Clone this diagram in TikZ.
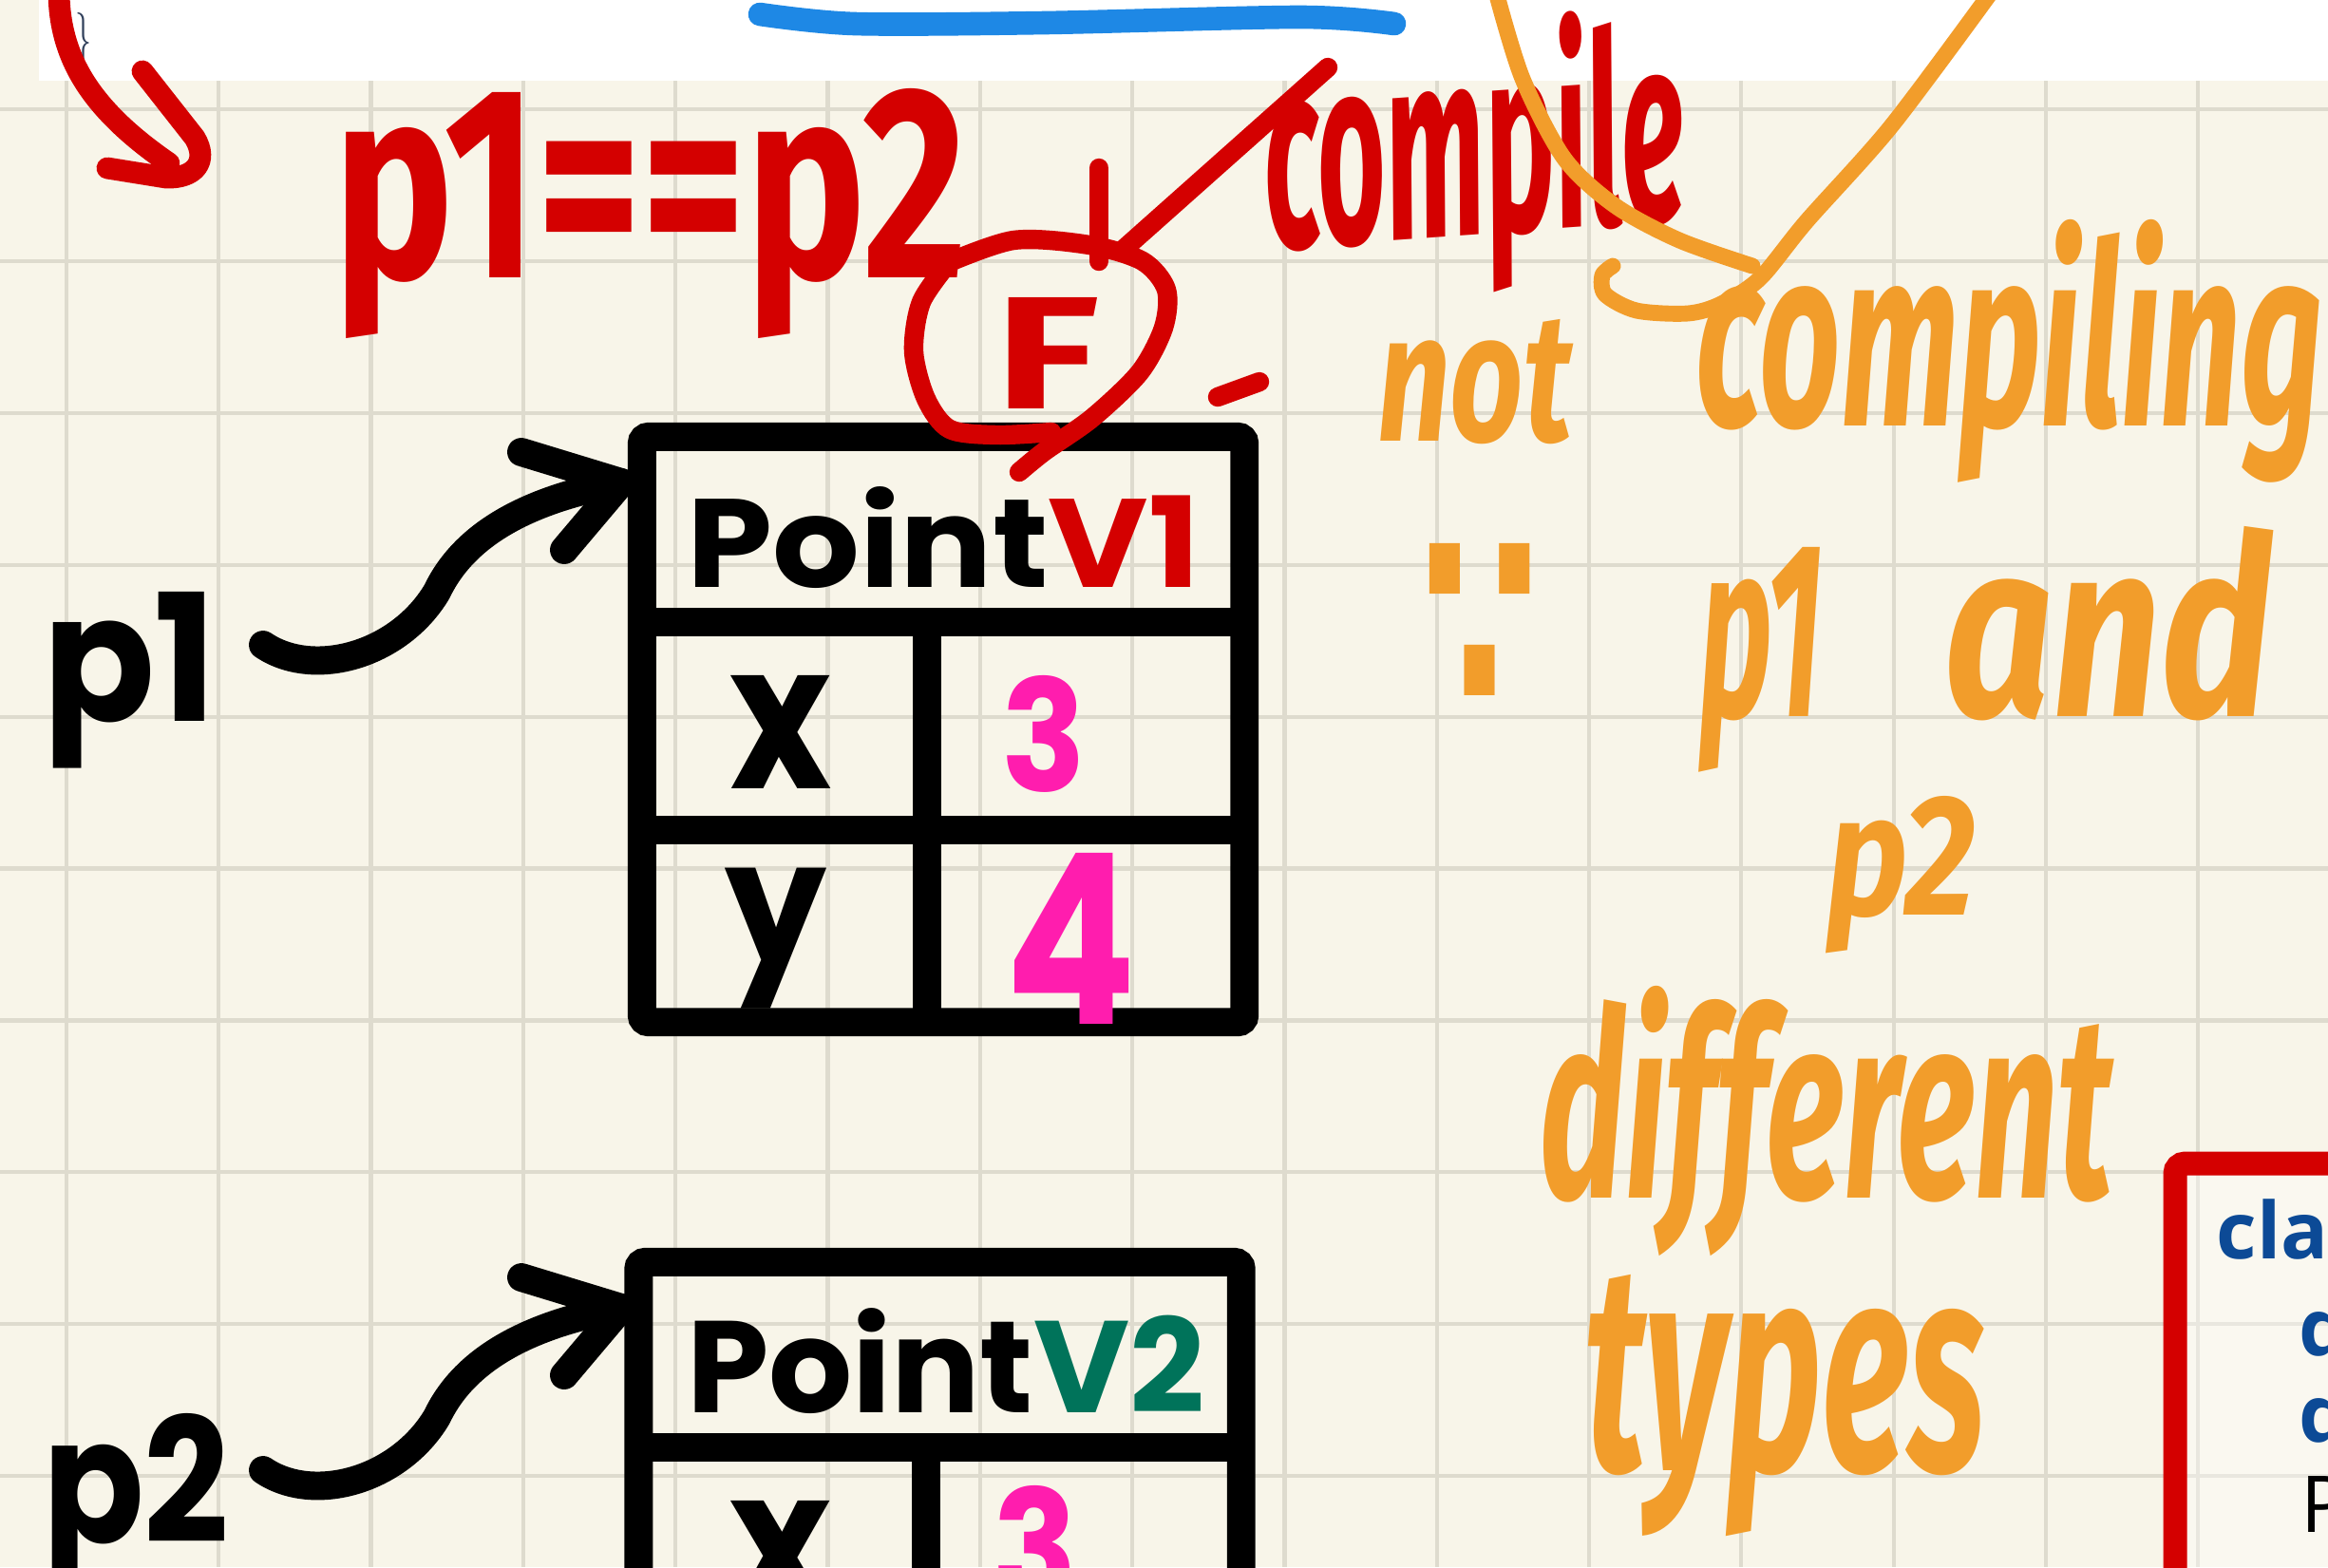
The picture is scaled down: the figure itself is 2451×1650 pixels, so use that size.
\documentclass[tikz,border=0pt]{standalone}
\usepackage{fontspec}
\usepackage{graphicx}
\usetikzlibrary{calc}
\newfontfamily\handf{Fira Sans}
\newfontfamily\boxf{Poppins}
\newfontfamily\codef{Open Sans}
\newfontfamily\symf{DejaVu Sans}
\definecolor{paper}{RGB}{248,245,233}
\definecolor{gridc}{RGB}{222,219,206}
\definecolor{inkred}{RGB}{212,0,0}
\definecolor{inkorange}{RGB}{242,157,43}
\definecolor{inkpink}{RGB}{255,29,174}
\definecolor{inkgreen}{RGB}{0,115,90}
\definecolor{inkblue}{RGB}{30,136,229}
\definecolor{codeblue}{RGB}{12,74,150}
\definecolor{slate}{RGB}{50,65,92}
\newcommand\fitbox[3]{\resizebox*{#1cm}{#2cm}{#3}}
\newcommand\fitbase[3]{\resizebox{#1cm}{#2cm}{#3}}
\begin{document}
\begin{tikzpicture}[x=0.01cm,y=-0.01cm,
  txt/.style={inner sep=0pt, outer sep=0pt, anchor=north west},
  btxt/.style={inner sep=0pt, outer sep=0pt, anchor=base west},
  gridline/.style={draw=gridc, line width=1.2pt},
  boxline/.style={draw=black, line width=8.5pt, line cap=round, line join=round},
  objbox/.style={draw=black, line width=8.5pt, rounded corners=2pt, inner sep=0pt, minimum width=6.34cm, minimum height=6.16cm},
  blackarrow/.style={draw=black, line width=8.5pt, line cap=round, line join=round},
  redthin/.style={draw=inkred, line width=5.8pt, line cap=round, line join=round},
  redthick/.style={draw=inkred, line width=6.5pt, line cap=round, line join=round},
  orangethin/.style={draw=inkorange, line width=4.8pt, line cap=round, line join=round},
  handred/.style={btxt, text=inkred, font=\handf\bfseries},
  handredit/.style={btxt, text=inkred, font=\handf\bfseries\itshape},
  handorange/.style={btxt, text=inkorange, font=\handf\bfseries\itshape},
  boxtext/.style={txt, text=black, font=\boxf\bfseries},
  boxbase/.style={btxt, text=black, font=\boxf\bfseries},
  codetext/.style={anchor=base west, inner sep=0pt, font=\codef\bfseries\fontsize{23.5}{28}\selectfont, text=codeblue}]
\useasboundingbox (0,0) rectangle (2451,1650);
\clip (0,0) rectangle (2451,1650);
% paper and grid
\fill[paper] (0,0) rectangle (2451,1650);
\foreach \i in {0,...,14} {\draw[gridline] ({70+160.3*\i},85) -- ({70+160.3*\i},1650);}
\foreach \j in {0,...,9} {\draw[gridline] (0,{115+159.9*\j}) -- (2451,{115+159.9*\j});}
\fill[white] (41,0) rectangle (2451,85);
% blue underline at the top
\draw[draw=inkblue, line width=7pt, line cap=round] plot[smooth] coordinates {(800,15) (900,25) (1100,24) (1370,18) (1468,25)};
% brace of the code above
\node[txt, text=slate] (brace) at (80,13) {\fitbox{0.17}{0.64}{\}}};
% red arrow top-left
\coordinate (ra1) at (62,-10);
\coordinate (ra2) at (178,172);
\draw[redthick] (ra1) .. controls (62,60) and (95,115) .. (ra2);
\draw[redthick] (150,75) -- (205,145) .. controls (220,170) and (205,188) .. (175,187) -- (113,177);
% code box bottom right
\draw[draw=inkred, line width=7.1pt, rounded corners=3pt, fill=white, fill opacity=0.35] (2290,1225) rectangle (2520,1720);
\node[codetext] (c1) at (2333,1325) {cla};
\node[codetext] (c2) at (2420,1427) {d};
\node[codetext] (c3) at (2420,1518) {d};
\node[codetext, font=\codef\fontsize{23.5}{28}\selectfont, text=black] (c4) at (2422,1613) {P};
% object boxes
\node[objbox] (box1) at (993,768) {};
\draw[boxline] (676,655) -- (1310,655);
\draw[boxline] (676,874) -- (1310,874);
\draw[boxline] (976,655) -- (976,1076);
\node[objbox] (box2) at (989.5,1637) {};
\draw[boxline] (673,1524) -- (1306,1524);
\draw[boxline] (975,1524) -- (975,1720);
% box texts
\node[boxtext] (hdr1) at (723,512) {\fitbox{5.40}{1.07}{Point\textcolor{inkred}{V1}}};
\node[boxtext] (x1) at (768,711) {\fitbox{1.07}{1.19}{x}};
\node[boxtext, text=inkpink] (v31) at (1054,711) {\fitbox{0.89}{1.23}{3}};
\node[boxtext] (y1) at (763,914) {\fitbox{1.07}{1.48}{y}};
\node[boxtext, text=inkpink] (v41) at (1058,898) {\fitbox{1.38}{1.80}{4}};
\node[boxtext] (hdr2) at (723,1377) {\fitbox{5.45}{1.11}{Point\textcolor{inkgreen}{V2}}};
\node[boxtext] (x2) at (768,1580) {\fitbox{1.07}{1.19}{x}};
\node[boxtext, text=inkpink] (v32) at (1045,1564) {\fitbox{0.89}{1.23}{3}};
% variables and their arrows
\node[boxbase] (p1) at (45,759) {\fitbase{1.83}{1.36}{p1}};
\node[boxbase] (p2) at (45,1624) {\fitbase{1.96}{1.36}{p2}};
\coordinate (a1s) at (277,679);
\coordinate (a1e) at (654,508);
\draw[blackarrow] (a1s) .. controls (330,715) and (420,690) .. (460,623) .. controls (490,560) and (560,525) .. (a1e);
\draw[blackarrow] (549,476) -- (a1e) -- (594,579);
\coordinate (a2s) at (277,1548);
\coordinate (a2e) at (654,1377);
\draw[blackarrow] (a2s) .. controls (330,1584) and (420,1559) .. (460,1492) .. controls (490,1429) and (560,1394) .. (a2e);
\draw[blackarrow] (549,1345) -- (a2e) -- (594,1448);
% red handwriting
\node[handred] (eq) at (351,292) {\fitbase{6.66}{1.99}{p1==p2}};
\node[handred] (ff) at (1047,430) {\fitbase{1.10}{1.17}{F}};
\draw[redthin] plot[smooth] coordinates {(990,280) (1067,253) (1147,258) (1203,275) (1228,305) (1225,345) (1200,392) (1150,440) (1100,475) (1073,497)};
\draw[redthin] plot[smooth] coordinates {(1000,275) (970,318) (962,370) (975,420) (1000,452) (1050,458) (1107,455)};
\draw[redthin] (1157,177) -- (1157,275);
\draw[redthin] (1180,265) -- (1398,71);
\draw[redthin] (1282,418) -- (1326,402);
\node[handredit, rotate=4] (comp) at (1336,262) {\fitbase{4.44}{2.27}{compile}};
% orange handwriting
\draw[orangethin] plot[smooth] coordinates {(1576,-5) (1603,83) (1647,167) (1701,217) (1768,253) (1845,280)};
\draw[orangethin] plot[smooth] coordinates {(2094,-5) (1991,133) (1902,233) (1853,293) (1812,320) (1777,330) (1723,327) (1690,310) (1687,290) (1698,280)};
\node[handorange] (nt) at (1450,464) {\fitbase{2.05}{1.28}{not}};
\node[handorange] (cpl) at (1785,448) {\fitbase{6.60}{2.17}{compiling}};
\node[txt, text=inkorange, font=\symf\bfseries] (bc) at (1494,572) {\fitbox{1.27}{1.82}{∵}};
\node[handorange] (p1o) at (1789,754) {\fitbase{1.30}{1.78}{p1}};
\node[handorange] (and) at (2047,754) {\fitbase{3.45}{2.00}{and}};
\node[handorange] (p2o) at (1923,963) {\fitbase{1.57}{1.25}{p2}};
\node[handorange] (dif) at (1621,1261) {\fitbase{6.03}{2.23}{different}};
\node[handorange] (typ) at (1668,1548) {\fitbase{4.22}{2.06}{types}};
\end{tikzpicture}
\end{document}
